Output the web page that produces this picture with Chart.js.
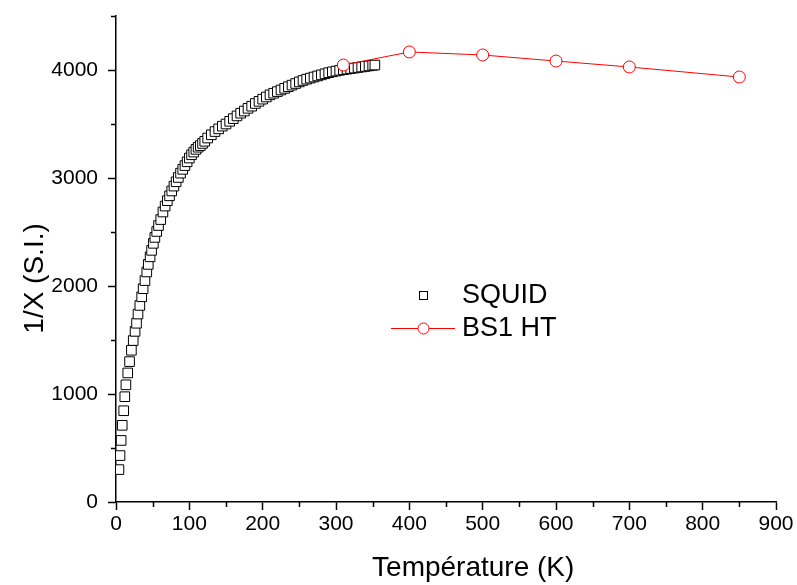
<!DOCTYPE html>
<html>
<head>
<meta charset="utf-8">
<script src="https://cdn.jsdelivr.net/npm/chart.js@4/dist/chart.umd.min.js"></script>
<style>
  html, body { margin: 0; padding: 0; background: #fff; }
  #wrap { width: 797px; height: 585px; position: relative; }
</style>
</head>
<body>
<div id="wrap"><canvas id="c" width="797" height="585"></canvas></div>
<script>
// ---- Data ----
const squidT = [4,5.5,7,8.5,10.5,12,13.5,16,18.5,21,23.5,26,28,30,32.5,35,37,39.5,42,44,46.5,48.5,51,53,55.5,58,61,64,67,70,73,76,79,82,85,88,91,94,97,100,103,106,109,112,115,118,121,125,130,135,140,145,150,155,160,165,170,175,180,185,190,195,200,205,210,215,220,225,230,235,240,245,250,255,260,265,270,275,280,285,290,295,300,305,310,315,320,325,330,335,340,345,350,353];
const squidV = [300,430,570,710,845,975,1085,1195,1300,1405,1495,1580,1655,1740,1820,1900,1975,2050,2130,2200,2270,2330,2395,2450,2505,2560,2615,2685,2740,2790,2835,2880,2925,2965,3005,3045,3080,3115,3150,3185,3215,3240,3265,3285,3300,3320,3340,3370,3400,3430,3455,3480,3500,3525,3550,3575,3600,3620,3645,3665,3690,3710,3730,3750,3770,3785,3800,3815,3830,3845,3860,3875,3890,3903,3915,3925,3935,3945,3955,3965,3975,3983,3990,3997,4003,4008,4013,4018,4023,4028,4033,4038,4043,4046];
const bsT = [310,400,500,600,700,850];
const bsV = [4046,4167,4139,4083,4028,3935];
const seriesNames = ['SQUID','BS1 HT'];
const xTickValues = [0,100,200,300,400,500,600,700,800,900];
const yTickValues = [0,1000,2000,3000,4000];
const xMinorValues = [50,150,250,350,450,550,650,750,850];
const yMinorValues = [500,1500,2500,3500,4500];
const xTitle = 'Température (K)';
const yTitle = '1/X (S.I.)';

const FONT = "'Liberation Sans', Arial, sans-serif";

const minorTicks = {
  id: 'minorTicks',
  afterDraw(chart) {
    const ctx = chart.ctx;
    const xs = chart.scales.x, ys = chart.scales.y;
    ctx.save();
    ctx.strokeStyle = '#000';
    ctx.lineWidth = 1.5;
    ctx.beginPath();
    xMinorValues.forEach(v => {
      const px = Math.round(xs.getPixelForValue(v)) + 0.5;
      ctx.moveTo(px, xs.top); ctx.lineTo(px, xs.top + 5);
    });
    yMinorValues.forEach(v => {
      const py = Math.round(ys.getPixelForValue(v)) + 0.5;
      ctx.moveTo(ys.right, py); ctx.lineTo(ys.right - 5, py);
    });
    ctx.stroke();
    ctx.restore();
  }
};

const legendPlugin = {
  id: 'customLegend',
  afterDraw(chart) {
    const ctx = chart.ctx;
    ctx.save();
    // SQUID entry
    ctx.fillStyle = '#fff';
    ctx.strokeStyle = '#000';
    ctx.lineWidth = 1;
    ctx.fillRect(419.5, 291.5, 8, 8);
    ctx.strokeRect(419.5, 291.5, 8, 8);
    // BS1 HT entry
    ctx.strokeStyle = '#ff0000';
    ctx.beginPath();
    ctx.moveTo(391, 328.5); ctx.lineTo(455, 328.5);
    ctx.stroke();
    ctx.beginPath();
    ctx.arc(423.5, 328.5, 5.5, 0, Math.PI * 2);
    ctx.fillStyle = '#fff';
    ctx.fill();
    ctx.stroke();
    ctx.fillStyle = '#000';
    ctx.font = '27px ' + FONT;
    ctx.textBaseline = 'middle';
    ctx.textAlign = 'left';
    ctx.fillText(seriesNames[0], 462, 296);
    ctx.fillText(seriesNames[1], 462, 329);
    ctx.restore();
  }
};

new Chart(document.getElementById('c'), {
  type: 'scatter',
  data: {
    datasets: [
      {
        label: seriesNames[1],
        data: bsT.map((t, i) => ({x: t, y: bsV[i]})),
        showLine: true,
        borderColor: '#ff0000',
        borderWidth: 1,
        pointStyle: 'circle',
        pointRadius: 6,
        pointBorderWidth: 1,
        pointBorderColor: '#ff0000',
        pointBackgroundColor: '#ffffff',
        order: 0
      },
      {
        label: seriesNames[0],
        data: squidT.map((t, i) => ({x: t, y: squidV[i]})),
        showLine: false,
        pointStyle: 'rect',
        pointRadius: 6.8,
        pointBorderWidth: 1,
        pointBorderColor: '#000000',
        pointBackgroundColor: '#ffffff',
        order: 1
      }
    ]
  },
  options: {
    responsive: false,
    animation: false,
    events: [],
    layout: { padding: { top: 16, right: 21, left: 0, bottom: 0 } },
    plugins: { legend: { display: false }, tooltip: { enabled: false } },
    scales: {
      x: {
        type: 'linear',
        min: 0, max: 900,
        afterBuildTicks: s => { s.ticks = xTickValues.map(v => ({value: v})); },
        afterFit: s => { s.height = 83; s.paddingLeft = 0; s.paddingRight = 0; },
        border: { display: true, color: '#000', width: 1.5 },
        grid: { drawOnChartArea: false, drawTicks: true, tickLength: 8, tickColor: '#000', tickWidth: 1.5 },
        ticks: { color: '#000', padding: 2, maxRotation: 0, autoSkip: false, callback: v => String(v), font: { family: FONT, size: 21 } },
        title: { display: true, text: '       ' + xTitle, color: '#000', padding: { top: 0, bottom: 0 }, font: { family: FONT, size: 28 } }
      },
      y: {
        type: 'linear',
        min: 0, max: 4500,
        afterBuildTicks: s => { s.ticks = yTickValues.map(v => ({value: v})); },
        afterFit: s => { s.width = 116; s.paddingTop = 0; s.paddingBottom = 0; },
        border: { display: true, color: '#000', width: 1.5 },
        grid: { drawOnChartArea: false, drawTicks: true, tickLength: 8, tickColor: '#000', tickWidth: 1.5 },
        ticks: { color: '#000', padding: 10, autoSkip: false, callback: v => String(v), font: { family: FONT, size: 21 } },
        title: { display: true, text: yTitle + '     ', color: '#000', padding: { top: 18, bottom: 0 }, font: { family: FONT, size: 28 } }
      }
    }
  },
  plugins: [minorTicks, legendPlugin]
});
</script>
</body>
</html>
